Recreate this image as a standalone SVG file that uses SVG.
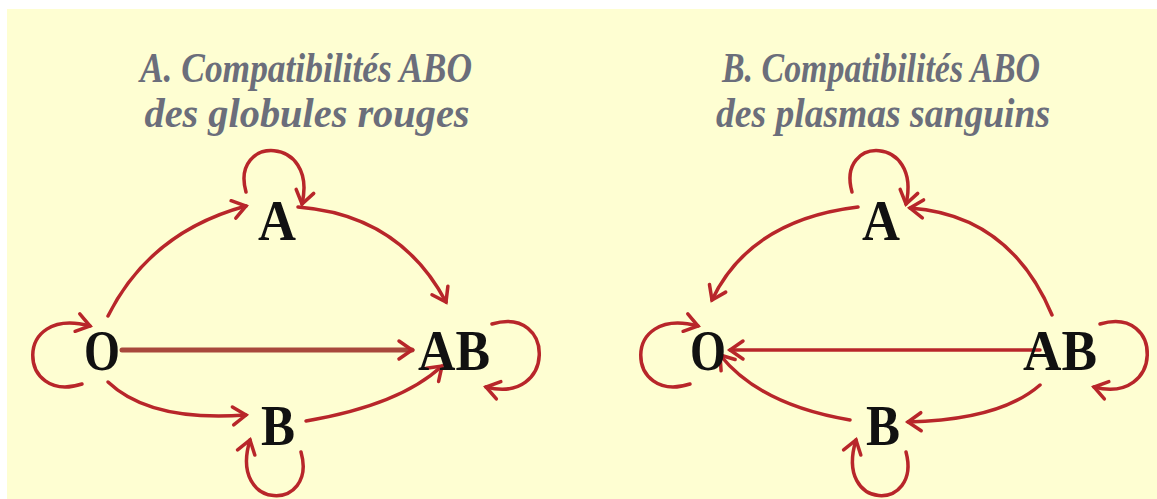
<svg xmlns="http://www.w3.org/2000/svg" width="1157" height="499" viewBox="0 0 1157 499">
<defs>
<marker id="ah" markerUnits="userSpaceOnUse" markerWidth="30" markerHeight="30" refX="0" refY="0" viewBox="-20 -15 30 30" orient="auto" overflow="visible">
<path d="M-13,-9 L0,0 L-13,9" fill="none" stroke="#b8262a" stroke-width="3.5" stroke-linecap="round" stroke-linejoin="miter"/>
</marker>
<style>
.t{font-family:"Liberation Serif",serif;font-weight:bold;font-style:italic;font-size:42px;fill:#6b6e7b;text-anchor:middle}
.n{font-family:"Liberation Serif",serif;font-weight:bold;font-size:56px;fill:#111;text-anchor:middle}
.e{fill:none;stroke:#b8262a;stroke-width:3.5;stroke-linecap:round;marker-end:url(#ah)}
.h{stroke:#a8483c;stroke-width:5}
</style>
</defs>
<rect x="7" y="9" width="1150" height="490" fill="#fefed2"/>
<g id="titleA">
<text class="t" x="306" y="82" textLength="332" lengthAdjust="spacingAndGlyphs">A. Compatibilités ABO</text>
<text class="t" x="307" y="127" textLength="325" lengthAdjust="spacingAndGlyphs">des globules rouges</text>
</g>
<g id="titleB">
<text class="t" x="881" y="82" textLength="318" lengthAdjust="spacingAndGlyphs">B. Compatibilités ABO</text>
<text class="t" x="883" y="127" textLength="334" lengthAdjust="spacingAndGlyphs">des plasmas sanguins</text>
</g>
<g id="connectors">
<!-- Panel A -->
<path class="e" d="M108,316 Q150,232 246,206"/>
<path class="e" d="M298,207 Q400,215 446,302"/>
<path class="e h" d="M122,350 L412,350"/>
<path class="e" d="M108,382 Q150,422 246,415"/>
<path class="e" d="M306,421 Q400,405 442,366"/>
<path class="e" d="M246,192 C230,135 318,135 302,204"/>
<path class="e" d="M82,384 C18,405 12,305 90,326"/>
<path class="e" d="M492,324 C556,305 556,405 486,387"/>
<path class="e" d="M301,452 C318,512 228,512 250,440"/>
<!-- Panel B -->
<path class="e" d="M858,207 Q750,220 712,300"/>
<path class="e" d="M1052,315 Q1010,215 910,208"/>
<path class="e" d="M1040,350 L730,350"/>
<path class="e" d="M850,420 Q760,405 720,355"/>
<path class="e" d="M1040,385 Q1000,420 908,422"/>
<path class="e" d="M852,192 C836,135 922,135 906,204"/>
<path class="e" d="M690,384 C626,405 620,305 698,326"/>
<path class="e" d="M1100,324 C1164,305 1164,405 1094,387"/>
<path class="e" d="M906,452 C922,512 834,512 856,440"/>
</g>
<g id="nodeA1"><text class="n" x="277" y="240" textLength="38" lengthAdjust="spacingAndGlyphs">A</text></g>
<g id="nodeO1"><text class="n" x="102" y="370" textLength="36" lengthAdjust="spacingAndGlyphs">O</text></g>
<g id="nodeAB1"><text class="n" x="454" y="370" textLength="72" lengthAdjust="spacingAndGlyphs">AB</text></g>
<g id="nodeB1"><text class="n" x="278" y="445" textLength="34" lengthAdjust="spacingAndGlyphs">B</text></g>
<g id="nodeA2"><text class="n" x="881" y="240" textLength="38" lengthAdjust="spacingAndGlyphs">A</text></g>
<g id="nodeO2"><text class="n" x="708" y="370" textLength="36" lengthAdjust="spacingAndGlyphs">O</text></g>
<g id="nodeAB2"><text class="n" x="1060" y="370" textLength="74" lengthAdjust="spacingAndGlyphs">AB</text></g>
<g id="nodeB2"><text class="n" x="883" y="445" textLength="34" lengthAdjust="spacingAndGlyphs">B</text></g>
</svg>
